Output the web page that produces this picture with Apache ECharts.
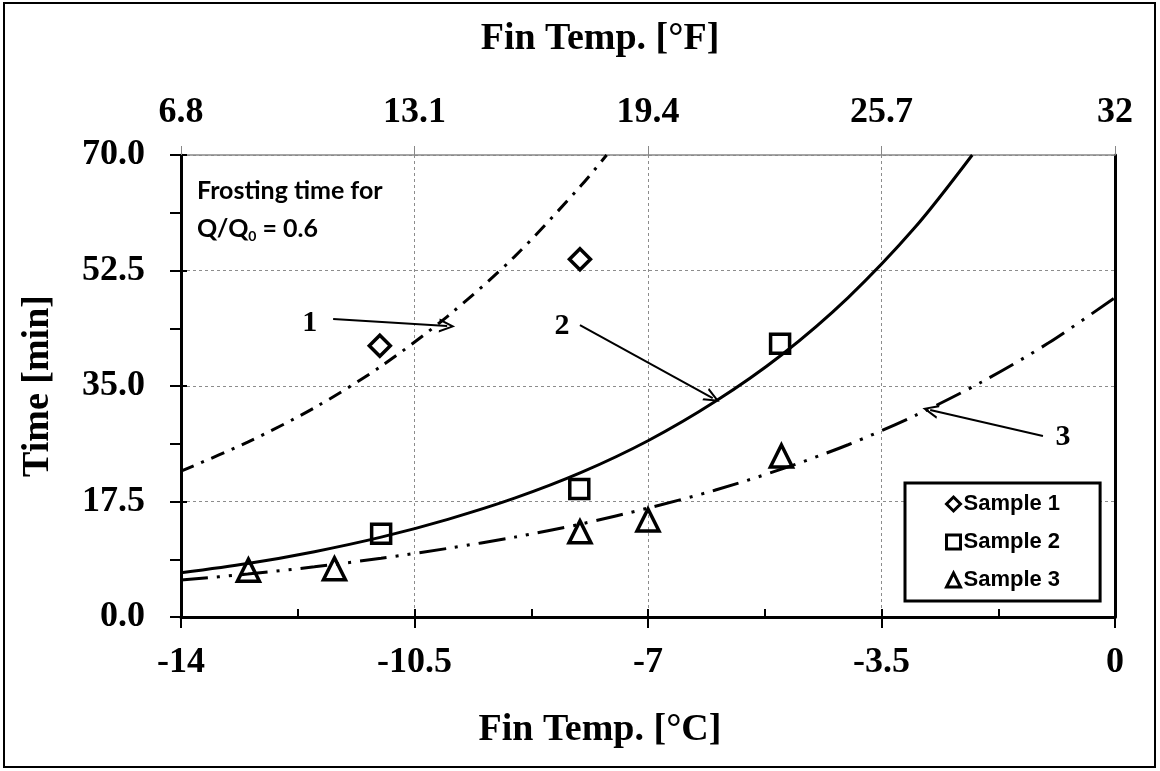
<!DOCTYPE html>
<html lang="en">
  <head>
    <meta charset="UTF-8" />
    <title>Frosting time vs fin temperature</title>
    <script src="https://cdn.jsdelivr.net/npm/echarts@6/dist/echarts.min.js"></script>
    <style>
      body {
        margin: 0;
        background-color: #ffffff;
      }
      #chart {
        width: 1160px;
        height: 771px;
      }
    </style>
  </head>
  <body>
    <div id="chart"></div>
    <script>
      // measured points [°C, min]
      var sample1 = [[-11.02, 41.1], [-8.02, 54.2]];
      var sample2 = [[-11.0, 12.6], [-8.03, 19.4], [-5.02, 41.4]];
      var sample3 = [[-12.99, 7.1], [-11.7, 7.3], [-8.02, 12.9], [-7.0, 14.7], [-5.0, 24.4]];

      // trend curves
      var curve1 = [[-14, 22.1], [-13, 26.5], [-12, 31.7], [-11, 38.0], [-10, 45.6], [-9, 54.6], [-8, 65.4], [-7.62, 70]];
      var curve2 = [[-14, 6.7], [-13, 8.1], [-12, 9.9], [-11, 12.1], [-10, 14.8], [-9, 18.0], [-8, 21.9], [-7, 26.7],
        [-6, 32.6], [-5, 39.7], [-4, 48.4], [-3, 59.0], [-2.14, 70]];
      var curve3 = [[-14, 5.6], [-13, 6.5], [-12, 7.6], [-11, 8.9], [-10, 10.4], [-9, 12.1], [-8, 14.1], [-7, 16.5],
        [-6, 19.2], [-5, 22.4], [-4, 26.1], [-3, 30.5], [-2, 35.6], [-1, 41.5], [0, 48.4]];

      // top axis labels (°F) for the °C ticks -14 .. 0
      var fTickLabels = ["6.8", "13.1", "19.4", "25.7", "32"];

      // curve callouts: label position and arrow start/end
      var callouts = [
        { name: "1", at: [-12.07, 44.5], from: [-11.72, 45.15], to: [-10.01, 44.09] },
        { name: "2", at: [-8.29, 44.1], from: [-8.02, 44.24], to: [-6.03, 33.18] },
        { name: "3", at: [-0.78, 27.3], from: [-1.08, 27.42], to: [-2.77, 31.36] },
      ];

      var serif = "'Liberation Serif', 'Times New Roman', serif";
      var sans = "'Liberation Sans', Arial, sans-serif";
      var chevron = "path://M5,0 L10,10 L8.4,10 L5,3 L1.6,10 L0,10 Z";

      const chart = echarts.init(document.getElementById("chart"));

      var tickLabel = { fontFamily: serif, fontWeight: "bold", fontSize: 36, color: "#000" };
      var axisName = { fontFamily: serif, fontWeight: "bold", fontSize: 38, color: "#000" };
      var gridDash = { type: [3, 3], color: "#8c8c8c", width: 1 };
      var blackTick = { width: 2, color: "#000" };
      var gridBox = { left: 181, right: 45, top: 155, bottom: 154 };

      function hollow(symbol, size, data, name) {
        return {
          name: name,
          type: "scatter",
          data: data,
          symbol: symbol,
          symbolSize: size,
          z: 5,
          itemStyle: { color: "rgba(255,255,255,0)", borderColor: "#000", borderWidth: 3.5, opacity: 1 },
        };
      }

      const options = {
        animation: false,
        grid: [Object.assign({}, gridBox), Object.assign({}, gridBox)],
        graphic: [
          {
            type: "rect",
            shape: { x: 4, y: 3, width: 1151, height: 764 },
            style: { fill: "none", stroke: "#000", lineWidth: 2 },
            z: -1,
          },
          {
            type: "text",
            left: 197,
            top: 178,
            style: {
              text: "{a|Frosting time for}\n{a|Q/Q}{s|0}{a| = 0.6}",
              rich: {
                a: { fontFamily: "Lato, sans-serif", fontWeight: "bold", fontSize: 25, lineHeight: 38, fill: "#000" },
                s: { fontFamily: "Lato, sans-serif", fontWeight: "bold", fontSize: 14, lineHeight: 38, padding: [16, 0, 0, 0], fill: "#000" },
              },
            },
          },
        ],
        legend: {
          orient: "vertical",
          left: 905,
          top: 483,
          data: ["Sample 1", "Sample 2", "Sample 3"],
          padding: [10, 40, 10, 40],
          itemGap: 16,
          itemWidth: 14,
          itemHeight: 14,
          itemStyle: { borderWidth: 3 },
          borderColor: "#000",
          borderWidth: 3,
          backgroundColor: "#fff",
          textStyle: { fontFamily: sans, fontWeight: "bold", fontSize: 22, color: "#000", padding: [0, 0, 0, -2] },
        },
        xAxis: [
          {
            gridIndex: 0,
            type: "value",
            min: -14,
            max: 0,
            interval: 3.5,
            position: "bottom",
            name: "Fin Temp. [°C]",
            nameLocation: "middle",
            nameGap: 94,
            nameTextStyle: Object.assign({ padding: [0, 96, 0, 0] }, axisName),
            axisLine: { onZero: false, lineStyle: { color: "#000", width: 3 } },
            axisTick: { inside: false, length: 11, lineStyle: blackTick },
            axisLabel: Object.assign({ margin: 28 }, tickLabel),
            splitLine: { show: true, lineStyle: gridDash },
          },
          {
            gridIndex: 0,
            type: "value",
            min: -14,
            max: 0,
            interval: 3.5,
            position: "top",
            name: "Fin Temp. [°F]",
            nameLocation: "middle",
            nameGap: 97,
            nameTextStyle: Object.assign({ padding: [0, 96, 0, 0] }, axisName),
            axisLine: { onZero: false, lineStyle: { color: "#888", width: 1.5 } },
            axisTick: { inside: false, length: 9, lineStyle: { width: 1, color: "#888" } },
            axisLabel: Object.assign(
              {
                margin: 24,
                formatter: function (v, i) {
                  return fTickLabels[i];
                },
              },
              tickLabel
            ),
            splitLine: { show: false },
          },
          {
            gridIndex: 1,
            type: "value",
            min: -14,
            max: 0,
            interval: 3.5,
            position: "bottom",
            axisLine: { show: false, onZero: false },
            axisTick: { inside: true, length: 8, lineStyle: blackTick },
            minorTick: { show: true, splitNumber: 2, length: 8, lineStyle: blackTick },
            axisLabel: { show: false },
            splitLine: { show: false },
          },
        ],
        yAxis: [
          {
            gridIndex: 0,
            type: "value",
            min: 0,
            max: 70,
            interval: 17.5,
            position: "left",
            name: "Time [min]",
            nameLocation: "middle",
            nameGap: 124,
            nameTextStyle: axisName,
            axisLine: { onZero: false, lineStyle: { color: "#000", width: 3 } },
            axisTick: { inside: false, length: 11, lineStyle: blackTick },
            minorTick: { show: true, splitNumber: 2, length: 11, lineStyle: blackTick },
            axisLabel: Object.assign(
              {
                margin: 36,
                formatter: function (v) {
                  return v.toFixed(1);
                },
              },
              tickLabel
            ),
            splitLine: { show: true, lineStyle: gridDash },
          },
          {
            gridIndex: 0,
            type: "value",
            min: 0,
            max: 70,
            interval: 17.5,
            position: "right",
            axisLine: { onZero: false, lineStyle: { color: "#000", width: 3 } },
            axisTick: { show: false },
            axisLabel: { show: false },
            splitLine: { show: false },
          },
          {
            gridIndex: 1,
            type: "value",
            min: 0,
            max: 70,
            interval: 17.5,
            position: "left",
            axisLine: { show: false, onZero: false },
            axisTick: { inside: true, length: 6, lineStyle: blackTick },
            axisLabel: { show: false },
            splitLine: { show: false },
          },
        ],
        series: [
          {
            type: "line",
            data: curve1,
            showSymbol: false,
            smooth: 0.3,
            silent: true,
            lineStyle: { color: "#000", width: 3, type: [14, 8, 3, 8] },
          },
          {
            type: "line",
            data: curve2,
            showSymbol: false,
            smooth: 0.3,
            silent: true,
            lineStyle: { color: "#000", width: 3, type: "solid" },
            markLine: {
              silent: true,
              symbol: ["none", chevron],
              symbolSize: [14, 16],
              label: { show: false },
              lineStyle: { color: "#000", width: 2, type: "solid" },
              data: callouts.map(function (c) {
                return [{ coord: c.from }, { coord: c.to }];
              }),
            },
            markPoint: {
              silent: true,
              symbol: "circle",
              symbolSize: 1,
              itemStyle: { color: "rgba(0,0,0,0)" },
              label: {
                show: true,
                position: "inside",
                formatter: "{b}",
                fontFamily: serif,
                fontWeight: "bold",
                fontSize: 30,
                color: "#000",
              },
              data: callouts.map(function (c) {
                return { name: c.name, coord: c.at };
              }),
            },
          },
          {
            type: "line",
            data: curve3,
            showSymbol: false,
            smooth: 0.3,
            silent: true,
            lineStyle: { color: "#000", width: 3, type: [27, 9, 3, 9, 3, 9] },
          },
          hollow("diamond", 21, sample1, "Sample 1"),
          hollow("rect", 19, sample2, "Sample 2"),
          hollow("triangle", 22, sample3, "Sample 3"),
        ],
      };

      chart.setOption(options);
    </script>
  </body>
</html>
